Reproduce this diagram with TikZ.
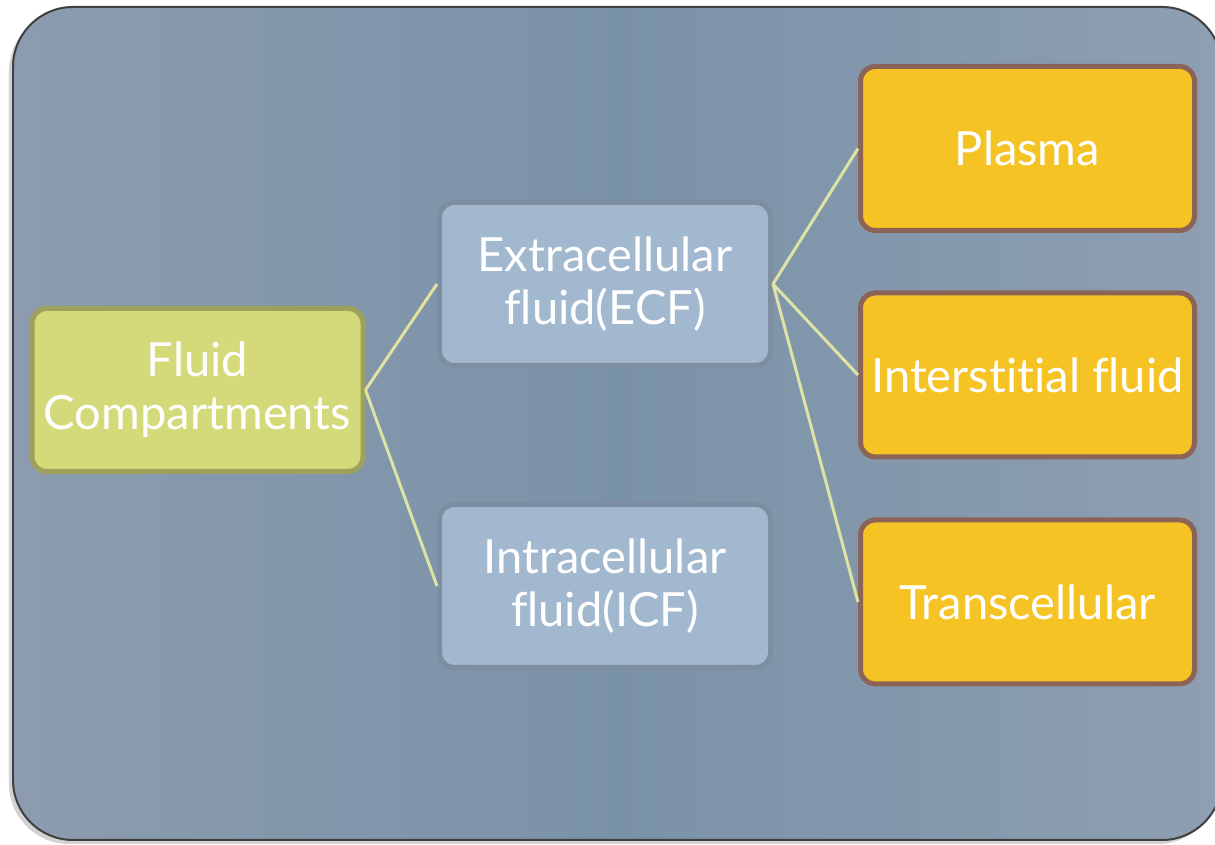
\documentclass[tikz,border=0pt]{standalone}
\usepackage{fontspec}
\setmainfont{Lato}[Ligatures=NoCommon]
\usepackage{tikz}
\usetikzlibrary{arrows,calc,shadows}

\definecolor{bgleft}{HTML}{8C9CAE}
\definecolor{bgmid}{HTML}{7A92A8}
\definecolor{bgright}{HTML}{8E9FB1}
\definecolor{greenfill}{HTML}{D4DA7A}
\definecolor{greenline}{HTML}{9DA15B}
\definecolor{bluefill}{HTML}{A2B8CF}
\definecolor{blueline}{HTML}{7D8EA1}
\definecolor{yellowfill}{HTML}{F6C324}
\definecolor{brownline}{HTML}{8C6357}
\definecolor{linkcolor}{HTML}{DEE2A4}

\begin{document}
\begin{tikzpicture}[
    box/.style={rounded corners=0.3cm, line width=0.1cm, align=center,
      text=white, font=\fontsize{26.8}{30}\selectfont,
      minimum width=6.62cm, minimum height=3.26cm},
    rootbox/.style={box, draw=greenline, fill=greenfill},
    midbox/.style={box, draw=blueline, fill=bluefill},
    leafbox/.style={box, draw=brownline, fill=yellowfill, minimum width=6.68cm, minimum height=3.28cm},
    link/.style={draw=linkcolor, line width=0.06cm}
  ]
          \useasboundingbox (0,0) rectangle (24.3,16.9);
          \fill[white] (0,0) rectangle (24.3,16.9);
          \draw[draw=black!75, line width=0.04cm, rounded corners=1.2cm,
            left color=bgleft, right color=bgright, middle color=bgmid,
            drop shadow={shadow xshift=-0.08cm, shadow yshift=-0.08cm, opacity=0.35}]
            (0.26,0.1) rectangle (24.44,16.76);

          \node[rootbox] (Fluid) at (3.95,9.10) {Fluid\\Compartments};
          \node[midbox] (ECF) at (12.10,11.22) {Extracellular\\fluid(ECF)};
          \node[midbox] (ICF) at (12.10,5.18) {Intracellular\\fluid(ICF)};
          \node[leafbox] (Plasma) at (20.55,13.93) {Plasma};
          \node[leafbox] (Interstitial) at (20.55,9.40) {Interstitial fluid};
          \node[leafbox] (Transcellular) at (20.55,4.86) {Transcellular};

          \draw[link] (Fluid.east) to (ECF.west);
          \draw[link] (Fluid.east) to (ICF.west);
          \draw[link] (ECF.east) to (Plasma.west);
          \draw[link] (ECF.east) to (Interstitial.west);
          \draw[link] (ECF.east) to (Transcellular.west);
        \end{tikzpicture}
\end{document}
